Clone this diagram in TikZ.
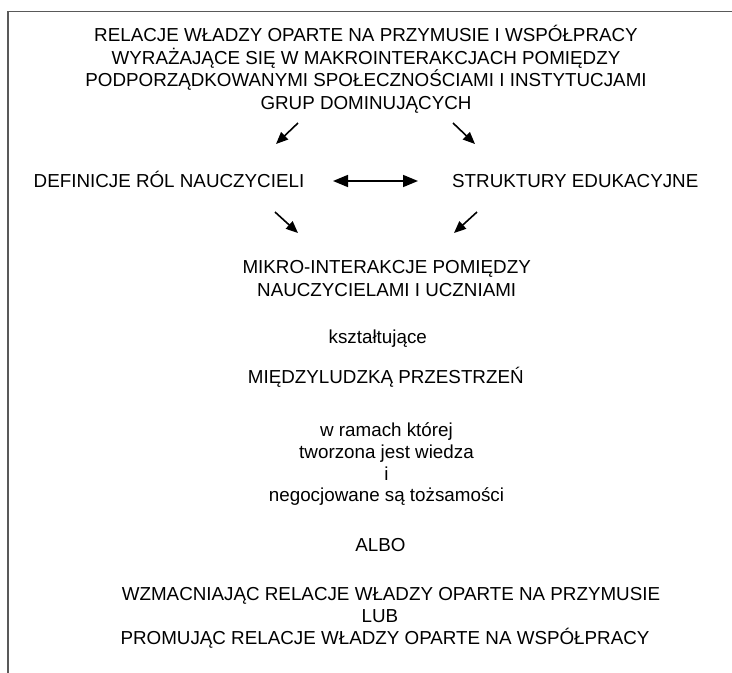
\documentclass[tikz,border=0pt]{standalone}
\usepackage{fontspec}
\setmainfont{Liberation Sans}
\usetikzlibrary{arrows.meta}
\definecolor{framegray}{HTML}{595959}
\tikzset{
  txt/.style={anchor=base, inner sep=0pt, font=\fontsize{18.8}{22.5}\selectfont},
  txtw/.style={txt, anchor=base west},
  arr/.style={line width=1.6pt, -{Triangle[length=12pt,width=10pt]}},
  darr/.style={line width=1.6pt, {Triangle[length=15pt,width=12pt]}-{Triangle[length=15pt,width=12pt]}},
  frameline/.style={draw=framegray, line width=1.7pt}
}
\begin{document}
\begin{tikzpicture}[x=1pt,y=-1pt]
\useasboundingbox (0,0) rectangle (732,673);
% frame
\coordinate (fc) at (8,11.5);
\coordinate (fr) at (733,11.5);
\coordinate (fb) at (8,674);
\draw[frameline] (fr) -- (fc) -- (fb);
% title
\node[txt] (t1) at (366,41.7) {RELACJE WŁADZY OPARTE NA PRZYMUSIE I WSPÓŁPRACY};
\node[txt] (t2) at (366,64.2) {WYRAŻAJĄCE SIĘ W MAKROINTERAKCJACH POMIĘDZY};
\node[txt] (t3) at (366,86.7) {PODPORZĄDKOWANYMI SPOŁECZNOŚCIAMI I INSTYTUCJAMI};
\node[txt] (t4) at (366,109.2) {GRUP DOMINUJĄCYCH};
% middle row
\node[txtw] (def) at (33.5,187) {DEFINICJE RÓL NAUCZYCIELI};
\node[txtw] (str) at (452,187) {STRUKTURY EDUKACYJNE};
% micro
\node[txt] (m1) at (386.7,273.3) {MIKRO-INTERAKCJE POMIĘDZY};
\node[txt] (m2) at (386.7,296) {NAUCZYCIELAMI I UCZNIAMI};
\node[txt] (kszt) at (377.8,343.3) {kształtujące};
\node[txt] (mied) at (385.8,383.3) {MIĘDZYLUDZKĄ PRZESTRZEŃ};
\node[txt] (w1) at (386.5,436.7) {w ramach której};
\node[txt] (w2) at (386.5,458.3) {tworzona jest wiedza};
\node[txt] (w3) at (386.5,480) {i};
\node[txt] (w4) at (386.5,501.7) {negocjowane są tożsamości};
\node[txt] (albo) at (380.5,551.7) {ALBO};
\node[txt] (b1) at (391,600.7) {WZMACNIAJĄC RELACJE WŁADZY OPARTE NA PRZYMUSIE};
\node[txt] (b2) at (380,622.7) {LUB};
\node[txt] (b3) at (385,644.7) {PROMUJĄC RELACJE WŁADZY OPARTE NA WSPÓŁPRACY};
% arrow end points
\coordinate (a1s) at (298,123);
\coordinate (a1e) at (276,144);
\coordinate (a2s) at (453,123);
\coordinate (a2e) at (475,144);
\coordinate (d1) at (333,181);
\coordinate (d2) at (418,181);
\coordinate (a3s) at (275,212);
\coordinate (a3e) at (298,233);
\coordinate (a4s) at (477,212);
\coordinate (a4e) at (454,233);
\draw[arr] (a1s) -- (a1e);
\draw[arr] (a2s) -- (a2e);
\draw[darr] (d1) -- (d2);
\draw[arr] (a3s) -- (a3e);
\draw[arr] (a4s) -- (a4e);
\end{tikzpicture}
\end{document}
